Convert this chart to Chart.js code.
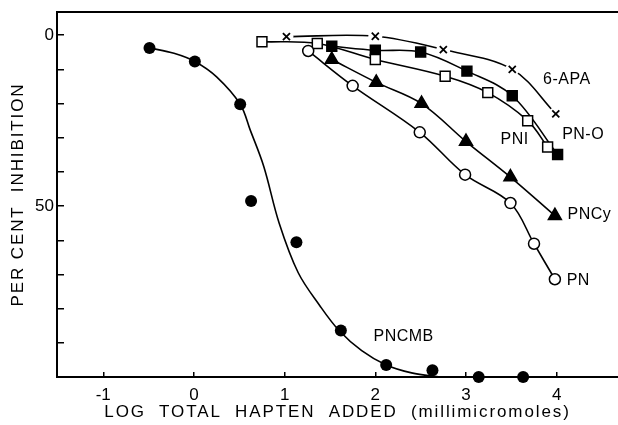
<!DOCTYPE html>
<html>
<head>
<meta charset="utf-8">
<title>Per cent inhibition vs log total hapten added</title>
<script src="https://cdn.jsdelivr.net/npm/chart.js@4.4.0/dist/chart.umd.min.js"></script>
<style>
  html, body { margin: 0; padding: 0; background: #fff; }
  #wrap { width: 618px; height: 425px; position: relative; }
</style>
</head>
<body>
<div id="wrap"><canvas id="inhibitionChart"></canvas></div>
<script>
// values: x = log total hapten added, y = per cent inhibition
var pncmbX = [-0.49, 0.01, 0.51, 0.63, 1.13, 1.62, 2.12, 2.63, 3.14, 3.63];
var pncmbY = [3.7, 7.7, 20.2, 48.5, 60.6, 86.4, 96.5, 98.0, 100, 100];
// fitted curve for PNCMB (it does not go through the points)
var pncmbCurveX = [-0.49, -0.22, 0.01, 0.25, 0.51, 0.62, 0.77, 0.94, 1.15, 1.39, 1.6, 1.85, 2.12, 2.4, 2.72];
var pncmbCurveY = [3.7, 5.3, 7.7, 12.2, 20.2, 27.7, 38.4, 55, 69.5, 79.2, 86.4, 92.3, 96.5, 98.8, 100];

var pnX = [1.26, 1.75, 2.49, 2.99, 3.49, 3.75, 3.98];
var pnY = [4.6, 14.8, 28.4, 40.8, 49.1, 61.0, 71.4];

var pncyX = [1.52, 2.01, 2.51, 3.0, 3.49, 3.98];
var pncyY = [7.1, 13.8, 20.0, 31.1, 41.5, 52.8];

var pniX = [0.75, 1.36, 2.0, 2.77, 3.24, 3.68, 3.90];
var pniY = [1.9, 2.4, 7.1, 12.0, 16.8, 25.0, 32.7];

var pnoX = [1.52, 2.0, 2.5, 3.01, 3.51, 4.01];
var pnoY = [3.2, 4.4, 4.9, 10.5, 17.7, 34.9];

var apaX = [1.02, 2.0, 2.75, 3.51, 3.99];
var apaY = [0.4, 0.3, 4.2, 10.0, 23.0];

// axis ticks
var xTickValues = [-1, 0, 1, 2, 3, 4];
var xTickLabels = ['-1', '0', '1', '2', '3', '4'];
var yTickValues = [0, 10, 20, 30, 40, 50, 60, 70, 80, 90];
var yLabelledTicks = [0, 50];

// curve names, written next to each curve (anchor in data units)
var labelNames = ['6-APA', 'PN-O', 'PNI', 'PNCy', 'PN', 'PNCMB'];
var labelX = [3.85, 4.06, 3.38, 4.12, 4.11, 1.98];
var labelY = [13.1, 29.0, 30.4, 52.6, 71.7, 88.2];

function pts(xs, ys) {
  return xs.map(function(x, i) { return { x: x, y: ys[i] }; });
}

document.addEventListener('DOMContentLoaded', function() {

  // titles in the figure are lettered with wide spacing
  var spacedTitles = {
    id: 'spacedTitles',
    beforeDraw: function(chart) {
      ['x', 'y'].forEach(function(id) {
        var s = chart.scales[id];
        if (!s || s._spaced) return;
        var orig = s.drawTitle;
        s.drawTitle = function() {
          this.ctx.save();
          this.ctx.letterSpacing = '1.9px';
          orig.call(this);
          this.ctx.restore();
        };
        s._spaced = true;
      });
    }
  };

  var curveLabels = {
    id: 'curveLabels',
    afterDatasetsDraw: function(chart) {
      var ctx = chart.ctx;
      var xs = chart.scales.x, ys = chart.scales.y;
      ctx.save();
      ctx.font = '16px "Liberation Sans", Arial, sans-serif';
      ctx.letterSpacing = '0.5px';
      ctx.fillStyle = '#000';
      ctx.textAlign = 'left';
      ctx.textBaseline = 'middle';
      labelNames.forEach(function(name, i) {
        ctx.fillText(name, xs.getPixelForValue(labelX[i]), ys.getPixelForValue(labelY[i]));
      });
      ctx.restore();
    }
  };

  var lineBase = {
    borderColor: '#000',
    borderWidth: 1.6,
    tension: 0.35,
    pointBorderColor: '#000',
    pointBorderWidth: 1.5,
    clip: false
  };

  function ds(extra) {
    return Object.assign({}, lineBase, extra);
  }

  // keep the plot area fixed, no extra room for edge labels
  function noPad(s) {
    s.paddingTop = 0; s.paddingBottom = 0;
    s.paddingLeft = 0; s.paddingRight = 0;
  }

  var ctx = document.getElementById('inhibitionChart').getContext('2d');

  var chart = new Chart(ctx, {
    type: 'line',
    data: {
      datasets: [
        // 6-APA: line, white gaps round the markers, then the x markers
        ds({ label: '6-APA line', data: pts(apaX, apaY), pointRadius: 0, order: 10 }),
        ds({ label: '6-APA gaps', data: pts(apaX, apaY), showLine: false, pointStyle: 'circle',
             pointRadius: 7, pointBorderWidth: 0, pointBackgroundColor: '#fff', order: 9 }),
        ds({ label: 'PN-O', data: pts(pnoX, pnoY), pointStyle: 'rect', pointRadius: 7,
             pointBackgroundColor: '#000', order: 4 }),
        ds({ label: 'PNI', data: pts(pniX, pniY), pointStyle: 'rect', pointRadius: 7,
             pointBackgroundColor: '#fff', order: 3 }),
        ds({ label: 'PNCy', data: pts(pncyX, pncyY), pointStyle: 'triangle', pointRadius: 7.5,
             pointBackgroundColor: '#000', order: 2 }),
        ds({ label: 'PN', data: pts(pnX, pnY), pointStyle: 'circle', pointRadius: 5.5,
             pointBackgroundColor: '#fff', order: 1 }),
        ds({ label: 'PNCMB curve', data: pts(pncmbCurveX, pncmbCurveY), pointRadius: 0, order: 6 }),
        ds({ label: 'PNCMB', data: pts(pncmbX, pncmbY), showLine: false, pointStyle: 'circle',
             pointRadius: 6, pointBorderWidth: 0, pointBackgroundColor: '#000', order: 5 }),
        ds({ label: '6-APA', data: pts(apaX, apaY), showLine: false, pointStyle: 'crossRot',
             pointRadius: 5, pointBorderWidth: 1.8, order: 0 })
      ]
    },
    options: {
      responsive: true,
      maintainAspectRatio: false,
      animation: false,
      events: [],
      layout: { padding: 0, autoPadding: false },
      plugins: {
        legend: { display: false },
        tooltip: { enabled: false }
      },
      scales: {
        x: {
          type: 'linear',
          position: 'bottom',
          min: -1.51,
          max: 4.676,
          afterBuildTicks: function(s) {
            s.ticks = xTickValues.map(function(v) { return { value: v }; });
          },
          afterFit: function(s) { s.height = 48; noPad(s); },
          grid: { drawOnChartArea: false, drawTicks: true, tickLength: -5, color: '#000', lineWidth: 1.5 },
          border: { display: true, color: '#000', width: 2 },
          ticks: {
            padding: 13,
            color: '#000',
            maxRotation: 0,
            font: { family: '"Liberation Sans", Arial, sans-serif', size: 17 },
            callback: function(v) {
              var i = xTickValues.indexOf(v);
              return i < 0 ? '' : xTickLabels[i];
            }
          },
          title: {
            display: true,
            text: 'LOG  TOTAL  HAPTEN  ADDED  (millimicromoles)',
            color: '#000',
            padding: { top: 0, bottom: 2 },
            font: { family: '"Liberation Sans", Arial, sans-serif', size: 17 }
          }
        },
        xTop: {
          type: 'linear',
          position: 'top',
          min: -1.51,
          max: 4.676,
          afterFit: function(s) { s.height = 12; noPad(s); },
          grid: { display: false },
          border: { display: true, color: '#000', width: 2 },
          ticks: { display: false }
        },
        y: {
          type: 'linear',
          reverse: true,
          min: -6.8,
          max: 100,
          afterBuildTicks: function(s) {
            s.ticks = yTickValues.map(function(v) { return { value: v }; });
          },
          afterFit: function(s) { s.width = 57; noPad(s); },
          grid: { drawOnChartArea: false, drawTicks: true, tickLength: -7, color: '#000', lineWidth: 1.5 },
          border: { display: true, color: '#000', width: 2 },
          ticks: {
            padding: 10,
            color: '#000',
            font: { family: '"Liberation Sans", Arial, sans-serif', size: 17 },
            callback: function(v) {
              return yLabelledTicks.indexOf(v) < 0 ? '' : String(v);
            }
          },
          title: {
            display: true,
            text: 'PER CENT  INHIBITION',
            color: '#000',
            padding: { top: 8, bottom: 0 },
            font: { family: '"Liberation Sans", Arial, sans-serif', size: 17 }
          }
        }
      }
    },
    plugins: [spacedTitles, curveLabels]
  });
});
</script>
</body>
</html>
